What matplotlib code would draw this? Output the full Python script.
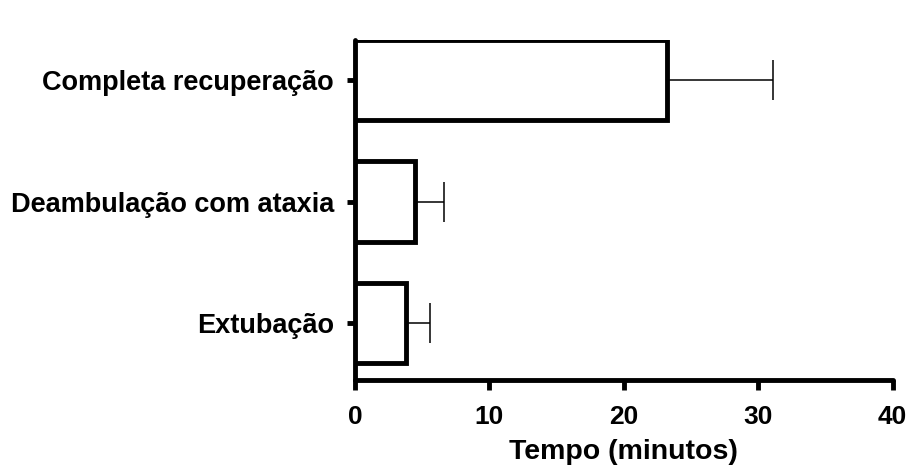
import matplotlib
matplotlib.use("Agg")
import matplotlib.pyplot as plt

categories = ['Extubação', 'Deambulação com ataxia', 'Completa recuperação']
means = [3.8, 4.45, 23.2]
errors = [1.8, 2.15, 7.9]
xticks = [0, 10, 20, 30, 40]

plt.rcParams['font.family'] = ['Liberation Sans', 'DejaVu Sans']

fig = plt.figure(figsize=(9.1, 4.7), dpi=100)
ax = fig.add_axes([0.390, 0.191, 0.591, 0.724])

pos = list(range(len(categories)))
ax.barh(pos, means, height=0.66, color='white', edgecolor='black', linewidth=3.5, zorder=3)
ax.errorbar(means, pos, xerr=[[0] * len(errors), errors], fmt='none', ecolor='black',
            elinewidth=1.1, capsize=14.5, capthick=1.1, zorder=2)

ax.set_xlim(0, 40)
ax.set_ylim(-0.47, 2.33)
ax.set_yticks(pos)
ax.set_yticklabels(categories, fontsize=19.5, fontweight='bold')
ax.set_xticks(xticks)
ax.set_xticklabels([str(t) for t in xticks], fontsize=19, fontweight='bold')
ax.set_xlabel('Tempo (minutos)', fontsize=20.5, fontweight='bold', labelpad=7)

for side in ['top', 'right']:
    ax.spines[side].set_visible(False)
for side in ['left', 'bottom']:
    ax.spines[side].set_linewidth(3.5)
    ax.spines[side].set_capstyle('round')
ax.tick_params(axis='y', length=6, width=3.5, pad=9)
ax.tick_params(axis='x', length=7, width=3.5, pad=11)

fig.savefig('out.png', dpi=100)
